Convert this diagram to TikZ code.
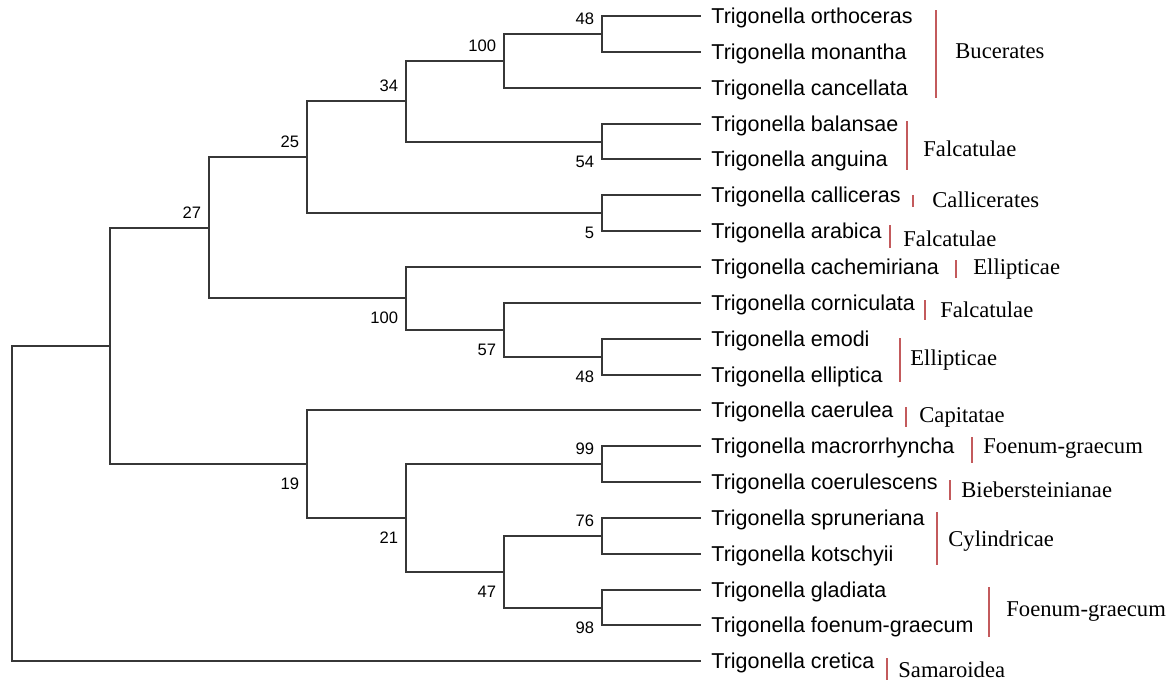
\documentclass[tikz,border=0pt]{standalone}
\usepackage{fontspec}
\setmainfont{Liberation Sans}
\newfontfamily\secfont{Liberation Serif}
\definecolor{barred}{RGB}{195,90,92}
\definecolor{treeline}{RGB}{55,55,55}
\begin{document}
\begin{tikzpicture}[x=0.5pt,y=-0.5pt,
  branch/.style={draw=treeline, line width=0.9pt},
  sp/.style={anchor=west, inner sep=0pt, font=\fontsize{10.75}{12}\selectfont, text height=7.7pt, text depth=0pt},
  bs/.style={inner sep=0pt, anchor=east, font=\fontsize{8.3}{10}\selectfont, text height=6pt, text depth=0pt, xshift=-3.75pt},
  bsa/.style={bs, yshift=8pt},
  bsb/.style={bs, yshift=-9.5pt},
  sec/.style={anchor=west, inner sep=0pt, font=\secfont\fontsize{11.3}{13}\selectfont, text height=7.5pt, text depth=0pt},
  grp/.style={draw=barred, line width=0.8pt}
]
\path[fill=white,use as bounding box] (0,0) rectangle (1170,682);

% internal nodes
\coordinate (root) at (12,504);
\coordinate (A) at (110,346);
\coordinate (B) at (209,228);
\coordinate (C) at (307,464);
\coordinate (D) at (307,157);
\coordinate (E) at (406,298);
\coordinate (F) at (406,101);
\coordinate (N) at (406,518);
\coordinate (H) at (504,61);
\coordinate (K) at (504,330);
\coordinate (P) at (504,572);
\coordinate (J) at (602,34);
\coordinate (I) at (602,142);
\coordinate (G) at (602,213);
\coordinate (M) at (602,357);
\coordinate (O) at (602,464);
\coordinate (Q) at (602,536);
\coordinate (R) at (602,608);

% leaf tips
\coordinate (t1) at (701,16);
\coordinate (t2) at (701,52);
\coordinate (t3) at (701,88);
\coordinate (t4) at (701,124);
\coordinate (t5) at (701,159);
\coordinate (t6) at (701,195);
\coordinate (t7) at (701,231);
\coordinate (t8) at (701,267);
\coordinate (t9) at (701,303);
\coordinate (t10) at (701,339);
\coordinate (t11) at (701,375);
\coordinate (t12) at (701,410);
\coordinate (t13) at (701,446);
\coordinate (t14) at (701,482);
\coordinate (t15) at (701,518);
\coordinate (t16) at (701,554);
\coordinate (t17) at (701,590);
\coordinate (t18) at (701,625);
\coordinate (t19) at (701,661);

% species names
\node[sp] (s1) at (711,16) {Trigonella orthoceras};
\node[sp] (s2) at (711,52) {Trigonella monantha};
\node[sp] (s3) at (711,88) {Trigonella cancellata};
\node[sp] (s4) at (711,124) {Trigonella balansae};
\node[sp] (s5) at (711,159) {Trigonella anguina};
\node[sp] (s6) at (711,195) {Trigonella calliceras};
\node[sp] (s7) at (711,231) {Trigonella arabica};
\node[sp] (s8) at (711,267) {Trigonella cachemiriana};
\node[sp] (s9) at (711,303) {Trigonella corniculata};
\node[sp] (s10) at (711,339) {Trigonella emodi};
\node[sp] (s11) at (711,375) {Trigonella elliptica};
\node[sp] (s12) at (711,410) {Trigonella caerulea};
\node[sp] (s13) at (711,446) {Trigonella macrorrhyncha};
\node[sp] (s14) at (711,482) {Trigonella coerulescens};
\node[sp] (s15) at (711,518) {Trigonella spruneriana};
\node[sp] (s16) at (711,554) {Trigonella kotschyii};
\node[sp] (s17) at (711,590) {Trigonella gladiata};
\node[sp] (s18) at (711,625) {Trigonella foenum-graecum};
\node[sp] (s19) at (711,661) {Trigonella cretica};

% branches
\draw[branch] (root) |- (A);  \draw[branch] (root) |- (t19);
\draw[branch] (A) |- (B);     \draw[branch] (A) |- (C);
\draw[branch] (B) |- (D);     \draw[branch] (B) |- (E);
\draw[branch] (D) |- (F);     \draw[branch] (D) |- (G);
\draw[branch] (F) |- (H);     \draw[branch] (F) |- (I);
\draw[branch] (H) |- (J);     \draw[branch] (H) |- (t3);
\draw[branch] (J) |- (t1);    \draw[branch] (J) |- (t2);
\draw[branch] (I) |- (t4);    \draw[branch] (I) |- (t5);
\draw[branch] (G) |- (t6);    \draw[branch] (G) |- (t7);
\draw[branch] (E) |- (t8);    \draw[branch] (E) |- (K);
\draw[branch] (K) |- (t9);    \draw[branch] (K) |- (M);
\draw[branch] (M) |- (t10);   \draw[branch] (M) |- (t11);
\draw[branch] (C) |- (t12);   \draw[branch] (C) |- (N);
\draw[branch] (N) |- (O);     \draw[branch] (N) |- (P);
\draw[branch] (O) |- (t13);   \draw[branch] (O) |- (t14);
\draw[branch] (P) |- (Q);     \draw[branch] (P) |- (R);
\draw[branch] (Q) |- (t15);   \draw[branch] (Q) |- (t16);
\draw[branch] (R) |- (t17);   \draw[branch] (R) |- (t18);

% bootstrap values
\node[bsa] (bJ) at (J) {48};
\node[bsa] (bH) at (H) {100};
\node[bsa] (bF) at (F) {34};
\node[bsa] (bD) at (D) {25};
\node[bsa] (bB) at (B) {27};
\node[bsb] (bI) at (I) {54};
\node[bsb] (bG) at (G) {5};
\node[bsb] (bE) at (E) {100};
\node[bsb] (bK) at (K) {57};
\node[bsb] (bM) at (M) {48};
\node[bsa] (bO) at (O) {99};
\node[bsb] (bC) at (C) {19};
\node[bsb] (bN) at (N) {21};
\node[bsa] (bQ) at (Q) {76};
\node[bsb] (bP) at (P) {47};
\node[bsb] (bR) at (R) {98};

% section bars
\draw[grp] (936,10) -- (936,98);
\draw[grp] (907,121) -- (907,170);
\draw[grp] (913,195) -- (913,207);
\draw[grp] (890,225) -- (890,248);
\draw[grp] (956,260) -- (956,278);
\draw[grp] (925,300) -- (925,320);
\draw[grp] (900,338) -- (900,382);
\draw[grp] (906,407) -- (906,427);
\draw[grp] (972,437) -- (972,463);
\draw[grp] (950,480) -- (950,500);
\draw[grp] (937,512) -- (937,565);
\draw[grp] (989,587) -- (989,637);
\draw[grp] (887,658) -- (887,680);

% section names
\node[sec] (g1) at (955,50.8) {Bucerates};
\node[sec] (g2) at (923,149.2) {Falcatulae};
\node[sec] (g3) at (932,200.3) {Callicerates};
\node[sec] (g4) at (903,238.7) {Falcatulae};
\node[sec] (g5) at (973,267) {Ellipticae};
\node[sec] (g6) at (940,309.5) {Falcatulae};
\node[sec] (g7) at (910,358) {Ellipticae};
\node[sec] (g8) at (919,414.7) {Capitatae};
\node[sec] (g9) at (983,446) {Foenum-graecum};
\node[sec] (g10) at (961,489.7) {Biebersteinianae};
\node[sec] (g11) at (948,539) {Cylindricae};
\node[sec] (g12) at (1006,609) {Foenum-graecum};
\node[sec] (g13) at (898,670.3) {Samaroidea};
\end{tikzpicture}
\end{document}
